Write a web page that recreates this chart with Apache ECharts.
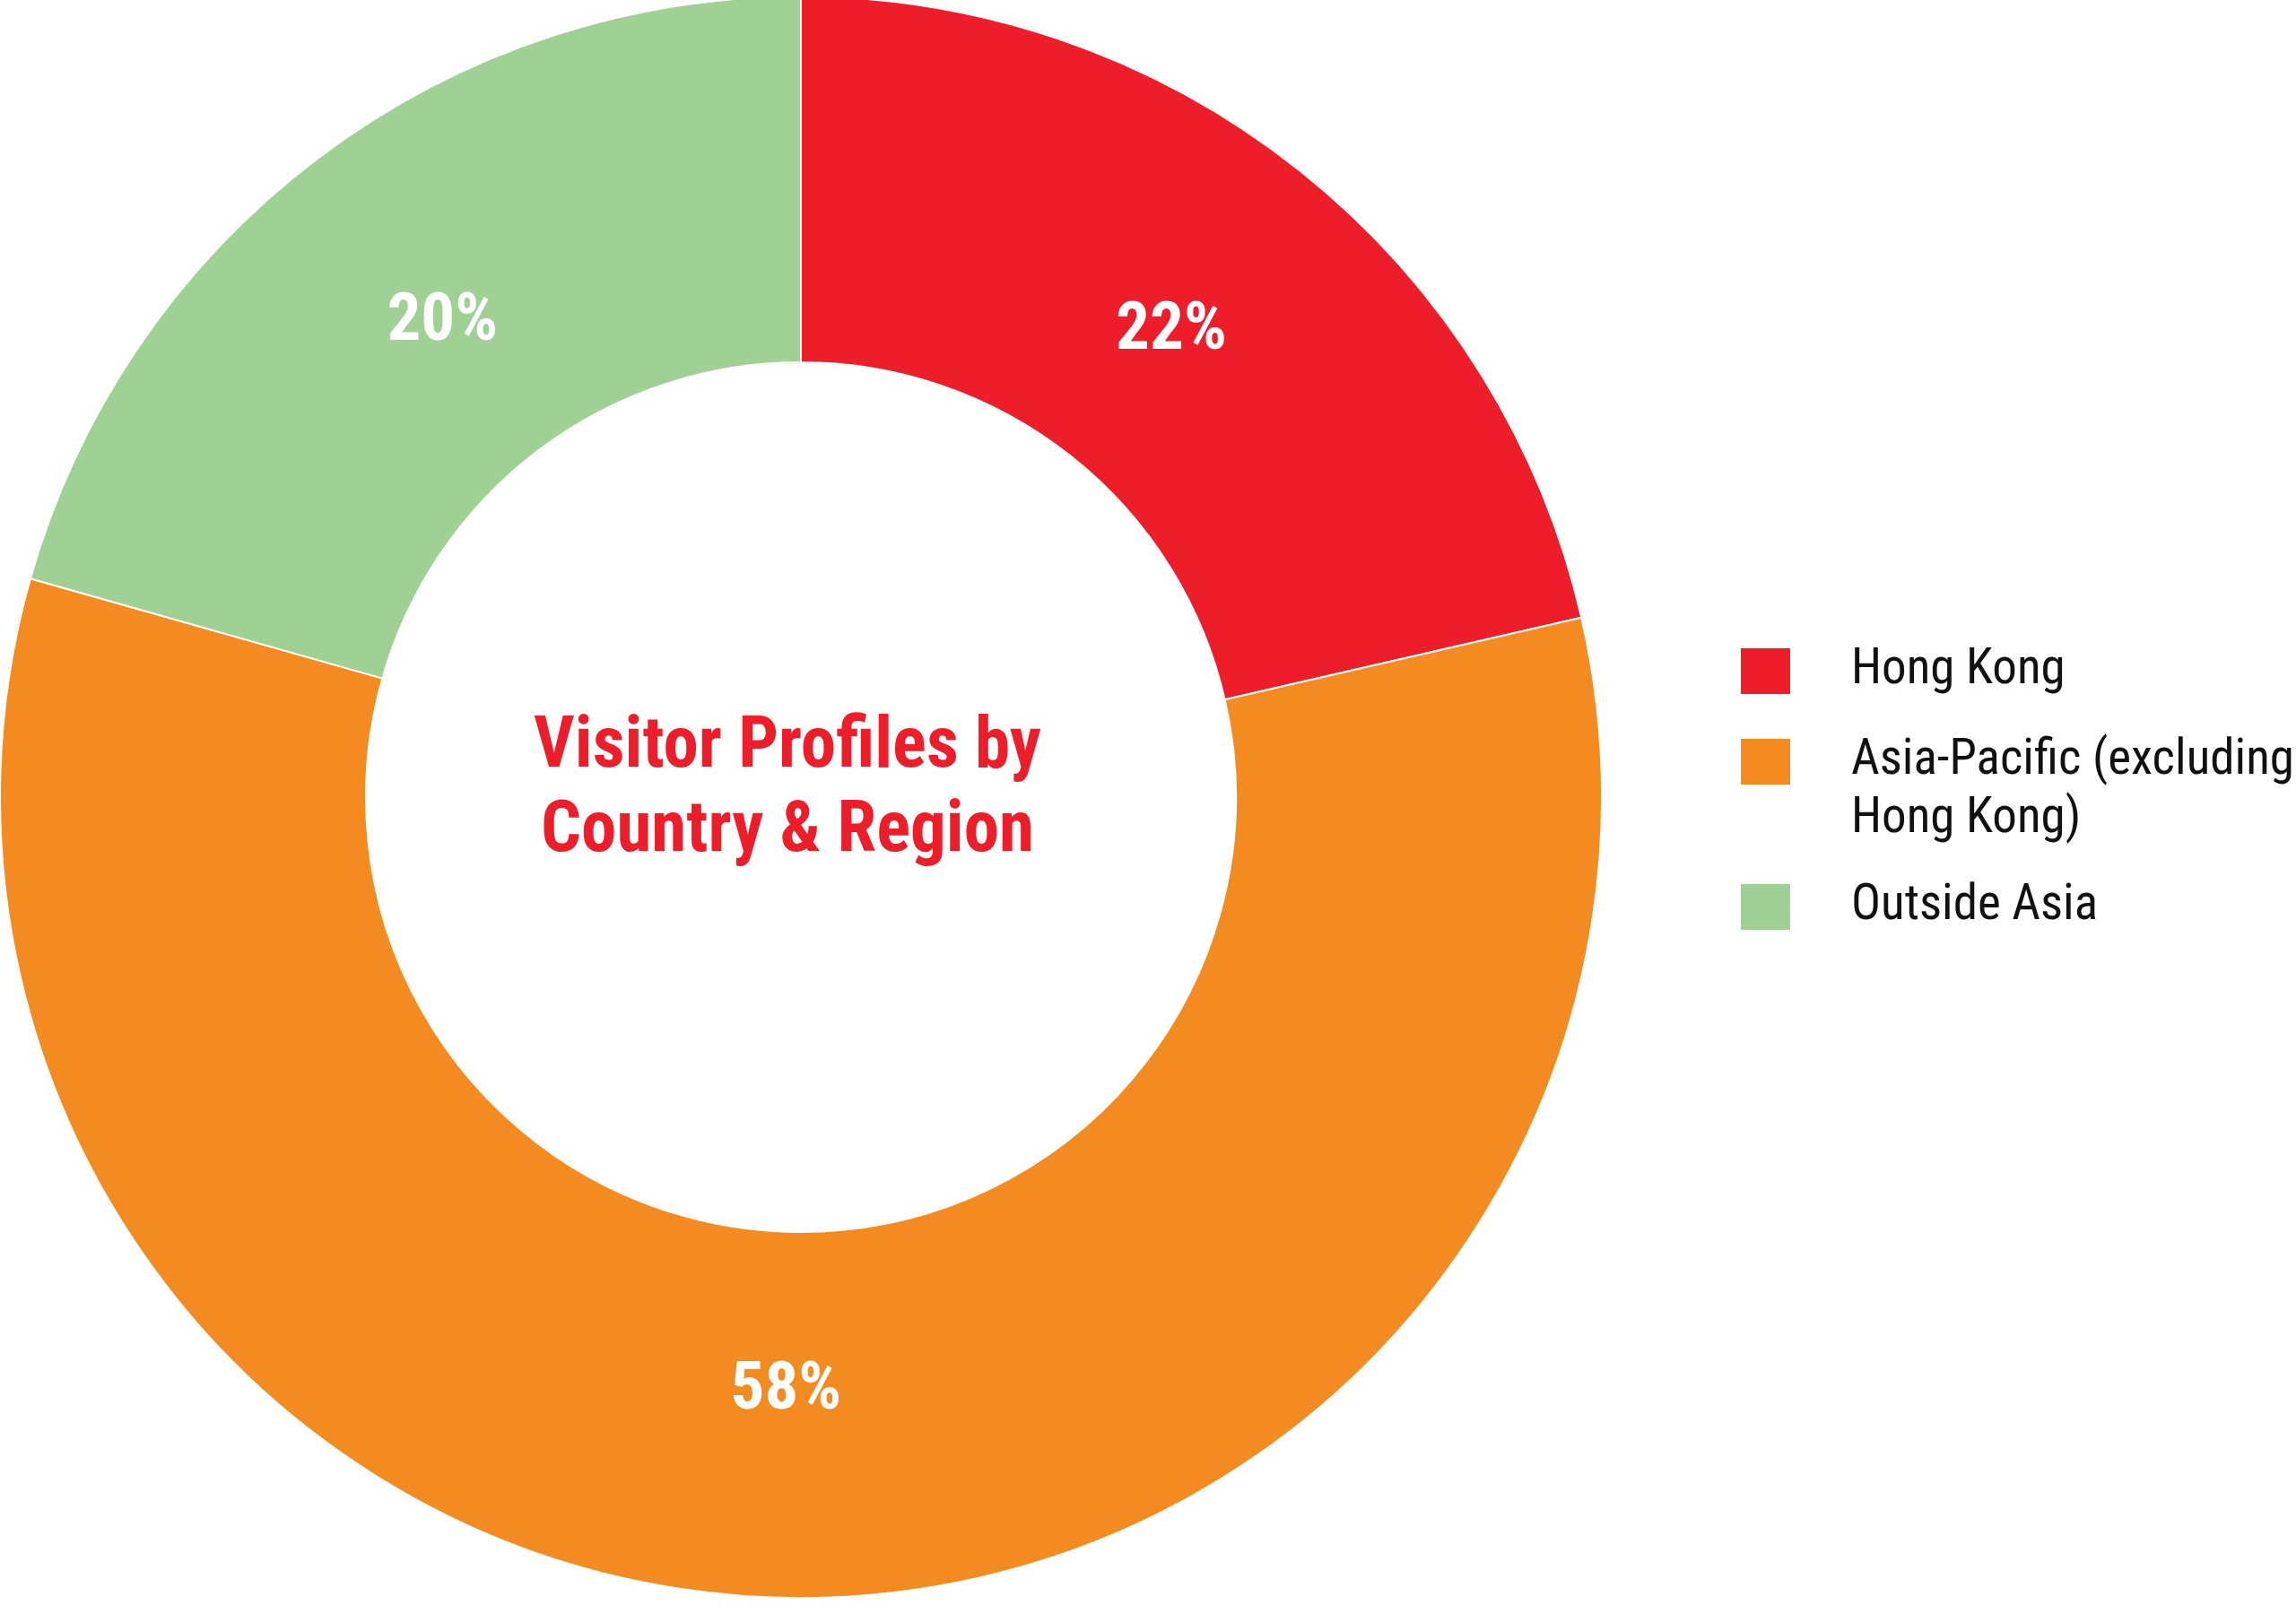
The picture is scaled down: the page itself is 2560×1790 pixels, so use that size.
<!DOCTYPE html>
<html>
<head>
<meta charset="utf-8">
<style>
  html, body { margin: 0; padding: 0; background: #ffffff; }
  #chart { width: 2560px; height: 1790px; }
</style>
<script src="https://cdn.jsdelivr.net/npm/echarts@6/dist/echarts.min.js"></script>
</head>
<body>
<div id="chart"></div>
<script>
// ---- data ----
const categories = ['Hong Kong', 'Asia-Pacific (excluding Hong Kong)', 'Outside Asia'];
const shares = [21.4, 58.0, 20.6];           // arc sizes as drawn
const pctLabels = ['22%', '58%', '20%'];      // printed labels
const colors = ['#ED1D2A', '#F48B20', '#9FD094'];
const centerTitle = 'Visitor Profiles by\nCountry & Region';

const condensed = "'Roboto Condensed', 'Liberation Sans Narrow', 'DejaVu Sans Condensed', Roboto, sans-serif";

const pieData = categories.map((name, i) => ({ name: name, value: shares[i] }));

function legendFor(name, pos) {
  return Object.assign({
    show: true,
    data: [name],
    orient: 'vertical',
    left: 1941,
    padding: 0,
    icon: 'rect',
    itemWidth: 55,
    itemHeight: 51,
    selectedMode: false,
    itemStyle: { borderWidth: 0 },
    formatter: function (n) {
      return n === 'Asia-Pacific (excluding Hong Kong)' ? '\nAsia-Pacific (excluding\nHong Kong)' : n;
    },
    textStyle: {
      fontFamily: condensed,
      fontSize: 55,
      lineHeight: 65,
      color: '#111111',
      padding: [0, 0, 0, 63]
    }
  }, pos);
}

const chart = echarts.init(document.getElementById('chart'), null, { renderer: 'canvas' });
chart.setOption({
  animation: false,
  color: colors,
  legend: [
    legendFor(categories[0], { top: 716 }),
    legendFor(categories[1], { bottom: 843 }),
    legendFor(categories[2], { top: 979 })
  ],
  graphic: [{
    type: 'text',
    x: 878,
    y: 882,
    silent: true,
    style: {
      text: centerTitle,
      fill: '#ED1D2A',
      font: "bold 79px " + condensed,
      lineHeight: 94,
      align: 'center',
      verticalAlign: 'middle'
    }
  }],
  series: [{
    type: 'pie',
    center: [893, 889],
    radius: [485, 893],
    startAngle: 90,
    clockwise: true,
    avoidLabelOverlap: false,
    silent: true,
    itemStyle: { borderColor: '#ffffff', borderWidth: 2 },
    label: { show: false },
    labelLine: { show: false },
    emphasis: { disabled: true },
    data: pieData
  }, {
    // transparent overlay used only to place the percentage labels
    type: 'pie',
    center: [893, 889],
    radius: [480, 840],
    startAngle: 90,
    clockwise: true,
    avoidLabelOverlap: false,
    silent: true,
    itemStyle: { color: 'rgba(0,0,0,0)', borderWidth: 0 },
    label: {
      show: true,
      position: 'inside',
      formatter: function (p) { return pctLabels[p.dataIndex]; },
      color: '#ffffff',
      fontFamily: condensed,
      fontWeight: 'bold',
      fontSize: 75
    },
    labelLine: { show: false },
    emphasis: { disabled: true },
    data: pieData
  }]
});
</script>
</body>
</html>
